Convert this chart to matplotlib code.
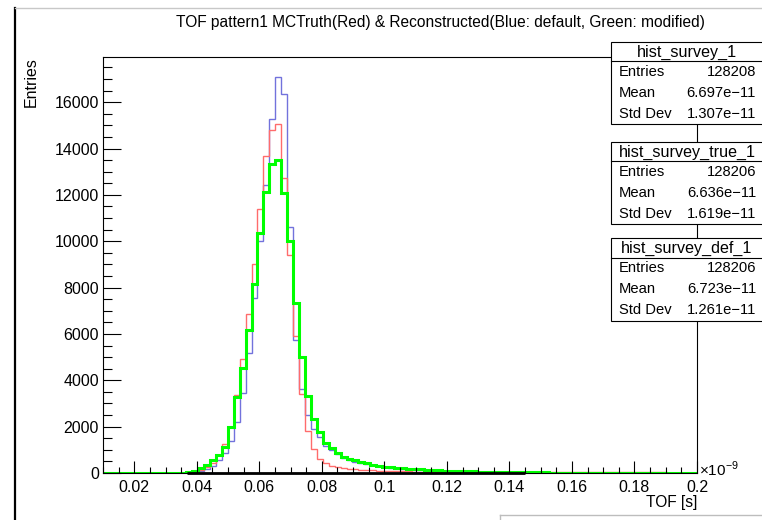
import matplotlib
matplotlib.use("Agg")
import matplotlib.pyplot as plt
from matplotlib.patches import Rectangle
from matplotlib.lines import Line2D
from matplotlib.ticker import MultipleLocator, FuncFormatter
import numpy as np

plt.rcParams['font.family'] = ['Liberation Sans', 'DejaVu Sans']
plt.rcParams['mathtext.fontset'] = 'custom'
plt.rcParams['mathtext.rm'] = 'Liberation Sans'

W, H = 762, 520

# 100 bins of TOF between 0.01 and 0.2 (x1e-9 s)
x_min, x_max, n_bins = 0.01, 0.2, 100

# MC truth (red)
tof_true = [
    0, 0, 0, 0, 0, 0, 0, 0, 0, 0,
    0, 0, 5, 15, 35, 70, 140, 260, 450, 760,
    1250, 2000, 3380, 4910, 6850, 9000, 11370, 13660, 14810, 15050,
    12730, 9400, 5900, 3400, 1830, 1040, 620, 420, 320, 260,
    220, 190, 165, 145, 130, 115, 105, 95, 85, 78,
    72, 66, 60, 56, 52, 48, 45, 42, 40, 38,
    36, 35, 34, 33, 33, 32, 32, 31, 31, 30,
    30, 30, 29, 29, 28, 28, 28, 27, 27, 27,
    26, 26, 26, 25, 25, 25, 24, 24, 24, 23,
    23, 23, 22, 22, 22, 21, 21, 21, 20, 20,
]
# reconstructed, default (blue)
tof_default = [
    0, 0, 0, 0, 0, 0, 0, 0, 0, 0,
    0, 0, 0, 5, 20, 40, 90, 170, 310, 540,
    850, 1360, 2190, 3450, 5170, 7560, 10000, 12440, 15280, 17080,
    16350, 10610, 5750, 3620, 2520, 1900, 1545, 1185, 1000, 825,
    650, 560, 490, 430, 380, 330, 290, 255, 225, 200,
    180, 160, 145, 130, 118, 105, 95, 86, 78, 70,
    63, 57, 52, 47, 43, 39, 35, 32, 29, 26,
    24, 22, 20, 18, 17, 16, 15, 14, 13, 12,
    11, 11, 10, 10, 9, 9, 8, 8, 8, 7,
    7, 7, 6, 6, 6, 6, 5, 5, 5, 5,
]
# reconstructed, modified (green)
tof_modified = [
    0, 0, 0, 0, 0, 0, 0, 0, 0, 0,
    0, 0, 0, 20, 60, 100, 210, 350, 540, 780,
    1120, 1970, 3300, 4530, 6150, 8160, 10340, 12130, 13330, 13500,
    12090, 10000, 7330, 4990, 3340, 2330, 1790, 1300, 1080, 880,
    700, 620, 540, 480, 420, 360, 320, 280, 250, 230,
    205, 185, 170, 155, 140, 128, 117, 106, 96, 88,
    80, 72, 65, 60, 55, 50, 45, 41, 37, 34,
    31, 28, 26, 24, 22, 20, 18, 17, 16, 15,
    14, 13, 12, 11, 10, 10, 9, 9, 8, 8,
    7, 7, 7, 6, 6, 6, 5, 5, 5, 5,
]

# stat boxes: name, entries, mean, std dev
stat_names = ["hist_survey_1", "hist_survey_true_1", "hist_survey_def_1"]
stat_entries = ["128208", "128206", "128206"]
stat_means = ["6.697e\u221211", "6.636e\u221211", "6.723e\u221211"]
stat_stds = ["1.307e\u221211", "1.619e\u221211", "1.261e\u221211"]

zero_line_range = (0.037, 0.145)

title = "TOF pattern1 MCTruth(Red) & Reconstructed(Blue: default, Green: modified)"


def fx(px):
    return px / W


def fy(py):
    return 1 - py / H


fig = plt.figure(figsize=(W / 100, H / 100), dpi=100)
ax = fig.add_axes([fx(103), fy(473), (697 - 103) / W, (473 - 57) / H])

edges = np.linspace(x_min, x_max, n_bins + 1)
ax.stairs(tof_default, edges, color='#7272dc', lw=1.0)
ax.stairs(tof_true, edges, color='#ff6c6c', lw=1.0)
ax.stairs(tof_modified, edges, color='#00ff00', lw=2.2)
ax.plot(zero_line_range, [0, 0], color='black', lw=2.0, solid_capstyle='butt',
        zorder=5, clip_on=False)

ax.set_xlim(x_min, x_max)
ax.set_ylim(0, 17950)

for s in ax.spines.values():
    s.set_linewidth(0.8)

ax.xaxis.set_major_locator(MultipleLocator(0.02))
ax.xaxis.set_minor_locator(MultipleLocator(0.005))
ax.yaxis.set_major_locator(MultipleLocator(2000))
ax.yaxis.set_minor_locator(MultipleLocator(500))
ax.xaxis.set_major_formatter(FuncFormatter(lambda v, p: "%g" % round(v, 4)))
ax.yaxis.set_major_formatter(FuncFormatter(lambda v, p: "%d" % round(v)))
ax.tick_params(axis='x', which='major', direction='in', length=9, width=0.8,
               labelsize=11.5, pad=5)
ax.tick_params(axis='x', which='minor', direction='in', length=4.3, width=0.8)
ax.tick_params(axis='y', which='major', direction='in', length=13, width=0.8,
               labelsize=11.5, pad=3)
ax.tick_params(axis='y', which='minor', direction='in', length=6.5, width=0.8)

# axis titles and exponent
fig.text(fx(31), fy(57), "Entries", rotation=90, ha='center', va='top', fontsize=11.5)
fig.text(fx(697), fy(503), "TOF [s]", ha='right', va='center', fontsize=11.2)
fig.text(fx(699), fy(476), r"$\times$10$^{-9}$", ha='left', va='baseline', fontsize=11)

fig.text(fx(440), fy(22), title, ha='center', va='center', fontsize=11.2)

# canvas borders from the screenshot
fig.add_artist(Line2D([fx(15), fx(15)], [fy(8), 0], color='black', lw=1.6))
fig.add_artist(Line2D([fx(15), 1], [fy(8), fy(8)], color='#c8c8c8', lw=1.0))
fig.add_artist(Line2D([fx(500), 1], [fy(515), fy(515)], color='#bdbdbd', lw=1.0))
fig.add_artist(Line2D([fx(500), fx(500)], [fy(515), 0], color='#bdbdbd', lw=1.0))

# stat boxes
box_left, box_right = 611, 763
box_tops = [41.7, 141.7, 238.3]
title_h, row_h = 19.5, 21.0
for name, ent, mean, std, top in zip(stat_names, stat_entries, stat_means,
                                     stat_stds, box_tops):
    bottom = top + title_h + 3 * row_h
    fig.add_artist(Rectangle((fx(box_left), fy(bottom)), (box_right - box_left) / W,
                             (bottom - top) / H, transform=fig.transFigure,
                             facecolor='white', edgecolor='black', lw=0.8))
    fig.add_artist(Line2D([fx(box_left), fx(box_right)],
                          [fy(top + title_h), fy(top + title_h)], color='black', lw=0.8))
    fig.text(fx(687), fy(top + title_h / 2 + 0.5), name, ha='center', va='center',
             fontsize=11.6)
    for k, (lab, val) in enumerate([("Entries", ent), ("Mean", mean), ("Std Dev", std)]):
        yc = top + title_h + row_h * (k + 0.5)
        fig.text(fx(619), fy(yc), lab, ha='left', va='center', fontsize=10.6)
        fig.text(fx(756), fy(yc), val, ha='right', va='center', fontsize=10.6)

fig.savefig("out.png", dpi=100)
